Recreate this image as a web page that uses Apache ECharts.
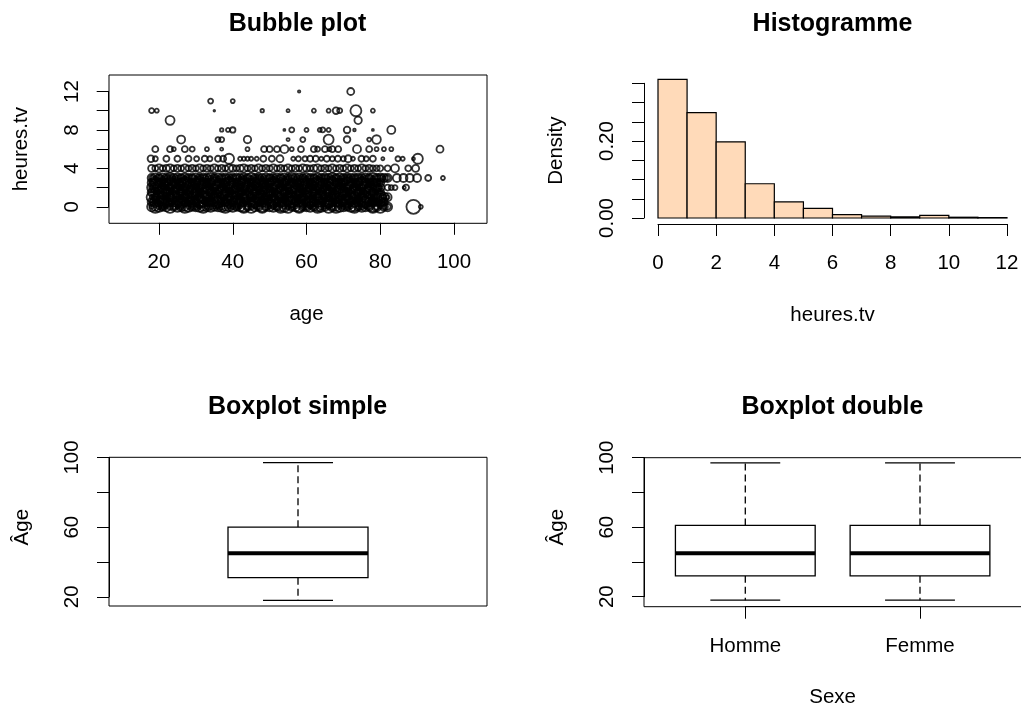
<!DOCTYPE html>
<html><head><meta charset="utf-8">
<script src="https://cdn.jsdelivr.net/npm/echarts@6/dist/echarts.min.js"></script>
<style>html,body{margin:0;padding:0;background:#fff}#c{width:1021px;height:706px}</style>
</head><body><div id="c"></div>
<script>
// ================= DATA =================
// Bubble plot: rows of [age, weight, weight, ...] for each heures.tv value
// (each weight after the age is one respondent; weight = bubble radius variable)
const tv0   = [[18,4.5,2],[19,4,6],[20,5,2.5],[21,4,3],[22,4.5,2],[23,6,3],[24,4,2.5],[25,5,2],[26,4.5,3],[27,4,6],[28,5,2],[29,4,2.5],[30,4.5,3],[31,5,2],[32,4,6],[33,4.5,2.5],[34,5,3],[35,4,2],[36,4.5,2.5],[37,5,3],[38,4,6],[39,4.5,2],[40,5,2.5],[41,4,3],[42,4.5,2],[43,5,6],[44,4,2.5],[45,6,3],[46,4.5,2],[47,4,2.5],[48,5,6],[49,4,3],[50,4.5,2],[51,5,2.5],[52,4,3],[53,4.5,6],[54,5,2],[55,6,2.5],[56,4,3],[57,4.5,2],[58,5,6],[59,4,2.5],[60,4.5,3],[61,5,2],[62,4,2.5],[63,4.5,6],[64,5,3],[65,4,2],[66,6,2.5],[67,4.5,3],[68,4,6],[69,5,2],[70,4.5,2.5],[71,4,3],[72,5,2],[73,4.5,6],[74,4,2.5],[75,5,3],[76,4.5,2],[77,4,2.5],[78,5,6],[79,4.5,3],[80,6,2],[81,4,2.5],[82,4.5,3],[89,7],[91,2]];
const tv05  = [[18,4,2.5],[19,5,3],[20,4.5,2],[21,4,6],[22,5,2.5],[23,4,3],[24,4.5,2],[25,5,2.5],[26,4,6],[27,4.5,3],[28,4,2],[29,5,2.5],[30,4,3],[31,4.5,6],[32,5,2],[33,4,2.5],[34,4.5,3],[35,4,2],[36,5,6],[37,4.5,2.5],[38,4,3],[39,5,2],[40,4,2.5],[41,4.5,6],[42,5,3],[43,4,2],[44,4.5,2.5],[45,4,3],[46,5,6],[47,4,2],[48,4.5,2.5],[49,5,3],[50,4,2],[51,4.5,6],[52,4,2.5],[53,5,3],[54,4.5,2],[55,4,2.5],[56,5,6],[57,4,3],[58,4.5,2],[59,5,2.5],[60,4,3],[61,4.5,6],[62,4,2],[63,5,2.5],[64,4.5,3],[65,4,2],[66,5,6],[67,4,2.5],[68,4.5,3],[69,5,2],[70,4,2.5],[71,4.5,6],[72,4,3],[73,5,2],[74,4.5,2.5],[75,4,3],[76,5,6],[77,4,2],[78,4.5,2.5],[79,4,3],[80,4.5,2],[81,4,2.5]];
const tv1   = [[18,5,2],[19,4,3],[20,4.5,6],[21,5,2.5],[22,4,2],[23,4.5,3],[24,5,6],[25,4,2.5],[26,5,2],[27,4.5,3],[28,4,6],[29,5,2.5],[30,4.5,2],[31,4,3],[32,5,6],[33,4.5,2.5],[34,4,2],[35,5,3],[36,4,6],[37,4.5,2.5],[38,5,2],[39,4,3],[40,4.5,6],[41,5,2.5],[42,4,2],[43,4.5,3],[44,5,6],[45,4,2.5],[46,4.5,2],[47,5,3],[48,4,6],[49,4.5,2.5],[50,5,2],[51,4,3],[52,5,6],[53,4.5,2.5],[54,4,2],[55,5,3],[56,4.5,6],[57,4,2.5],[58,5,2],[59,4.5,3],[60,4,6],[61,5,2.5],[62,4.5,2],[63,4,3],[64,5,6],[65,4.5,2.5],[66,4,2],[67,5,3],[68,4,6],[69,4.5,2.5],[70,5,2],[71,4,3],[72,4.5,6],[73,5,2.5],[74,4,2],[75,4.5,3],[76,5,6],[77,4,2.5],[78,4.5,2],[79,5,3],[80,4,6],[81,4.5,2.5],[82,4,2]];
const tv15  = [[18,4,3],[19,4.5,2],[20,5,2.5],[21,4,6],[22,4.5,3],[23,4,2],[24,5,2.5],[25,4.5,6],[26,4,3],[27,5,2],[28,4,2.5],[29,4.5,6],[30,5,3],[31,4,2],[32,4.5,2.5],[33,5,6],[34,4,3],[35,4.5,2],[36,4,2.5],[37,5,6],[38,4.5,3],[39,4,2],[40,5,2.5],[41,4,6],[42,4.5,3],[43,5,2],[44,4,2.5],[45,4.5,6],[46,4,3],[47,5,2],[48,4.5,2.5],[49,4,6],[50,5,3],[51,4.5,2],[52,4,2.5],[53,5,6],[54,4,3],[55,4.5,2],[56,5,2.5],[57,4,6],[58,4.5,3],[59,4,2],[60,5,2.5],[61,4.5,6],[62,4,3],[63,5,2],[64,4,2.5],[65,4.5,6],[66,5,3],[67,4,2],[68,4.5,2.5],[69,4,6],[70,5,3],[71,4.5,2],[72,4,2.5],[73,5,6],[74,4,3],[75,4.5,2],[76,4,2.5],[77,5,6],[78,4,3],[79,4.5,2],[80,4,2.5]];
const tv2   = [[18,4.5,2.5],[19,5,3],[20,4,6],[21,4.5,2],[22,5,2.5],[23,4,3],[24,4.5,6],[25,4,2],[26,5,2.5],[27,4,3],[28,4.5,6],[29,5,2],[30,4,2.5],[31,4.5,3],[32,4,6],[33,5,2],[34,4.5,2.5],[35,4,3],[36,5,6],[37,4,2],[38,4.5,2.5],[39,5,3],[40,4,6],[41,4.5,2],[42,4,2.5],[43,5,3],[44,4.5,6],[45,4,2],[46,5,2.5],[47,4.5,3],[48,4,6],[49,5,2],[50,4,2.5],[51,4.5,3],[52,5,6],[53,4,2],[54,4.5,2.5],[55,4,3],[56,5,6],[57,4.5,2],[58,4,2.5],[59,5,3],[60,4,6],[61,4.5,2],[62,5,2.5],[63,4,3],[64,4.5,6],[65,4,2],[66,5,2.5],[67,4.5,3],[68,4,6],[69,5,2],[70,4,2.5],[71,4.5,3],[72,5,6],[73,4,2],[74,4.5,2.5],[75,4,3],[76,5,6],[77,4.5,2],[78,4,2.5],[79,4.5,3],[80,4,2],[82,3],[83,2.5],[84,2.5],[86.5,1.5],[87,3]];
const tv25  = [[18,4,2],[19,4.5,6],[20,4,3],[21,5,2.5],[22,4,2],[23,4.5,6],[24,4,3],[25,5,2.5],[26,4.5,2],[27,4,6],[28,5,3],[29,4,2.5],[30,4.5,2],[31,4,6],[32,5,3],[33,4,2.5],[34,4.5,2],[35,5,6],[36,4,3],[37,4.5,2.5],[38,4,2],[39,5,6],[40,4.5,3],[41,4,2.5],[42,5,2],[43,4,6],[44,4.5,3],[45,4,2.5],[46,5,2],[47,4,6],[48,4.5,3],[49,5,2.5],[50,4,2],[51,4.5,6],[52,4,3],[53,5,2.5],[54,4,2],[55,4.5,6],[56,4,3],[57,5,2.5],[58,4.5,2],[59,4,6],[60,5,3],[61,4,2.5],[62,4.5,2],[63,4,6],[64,5,3],[65,4,2.5],[66,4.5,2],[67,5,6],[68,4,3],[69,4.5,2.5],[70,4,2],[71,5,6],[72,4,3],[73,4.5,2.5],[74,4,2],[75,5,6],[76,4.5,3],[77,4,2.5],[78,4.5,2],[79,4,3],[80,4,2.5]];
const tv3   = [[18,4,2.5],[19,4.5,2],[20,4,3],[21,4.5,2],[22,4,2.5],[23,5,3],[24,4,2],[25,4.5,2.5],[26,4,3],[27,4.5,2],[28,4,2.5],[29,4,3],[30,4.5,2],[31,4,2.5],[32,4.5,3],[33,4,2],[34,5,2.5],[35,4,3],[36,4.5,2],[37,4,2.5],[38,4.5,3],[39,4,2],[40,4,2.5],[41,4.5,3],[42,4,2],[43,4.5,2.5],[44,4,3],[45,5,2],[46,4,2.5],[47,4.5,3],[48,4,2],[49,4.5,2.5],[50,4,3],[51,4,2],[52,4.5,2.5],[53,4,3],[54,4.5,2],[55,4,2.5],[56,5,3],[57,4,2],[58,4.5,2.5],[59,4,3],[60,4.5,2],[61,4,2.5],[62,4,3],[63,4.5,2],[64,4,2.5],[65,4.5,3],[66,4,2],[67,5,2.5],[68,4,3],[69,4.5,2],[70,4,2.5],[71,4.5,3],[72,4,2],[73,4,2.5],[74,4.5,3],[75,4,2],[76,4.5,2.5],[77,4,3],[78,5,2],[79,4,2.5],[80,4.5,3],[81,4,2],[82,4,2.5],[84.5,4],[86.3,4],[88,4],[90,4],[93,3],[97,2]];
const tv4   = [[18,3.5],[19,3],[20,4],[21,3],[22,3.5],[23,4],[24,3],[25,3.5],[26,3],[27,4],[28,3],[29,3.5],[30,3],[31,4],[32,3],[33,3.5],[34,3],[35,4],[36,3],[37,3.5],[38,3],[39,4],[40,3.5],[41,3],[42,3.5],[43,4],[44,3],[45,3.5],[46,3],[47,4],[48,3],[49,3.5],[50,3],[51,4],[52,3],[53,3.5],[54,3],[55,4],[56,3],[57,3.5],[58,3],[59,4],[60,3.5],[61,3],[62,3.5],[63,4],[64,3],[65,3.5],[66,3],[67,4],[68,3],[69,3.5],[70,3],[71,4],[72,3],[73,3.5],[74,3],[75,4],[76,3],[77,3.5],[78,3],[79,3],[80,3],[82,3],[84,4],[87.6,3],[89.6,3.5]];
const tv5   = [[17.8,3.3],[19,2.5],[22,3],[25,3],[28,3],[30.2,2.5],[32.4,3],[33.8,2.5],[36,3],[37.4,3],[39,5],[42,2],[43,2],[44,2],[45,2],[46.5,2],[48.3,3],[50.6,3],[52.8,3.5],[56.4,2],[57.8,2.5],[59.6,2.5],[61,3],[62.5,3],[64,2],[65.5,3],[67,2.5],[68.5,3],[70,2.5],[71.3,3.5],[72.6,2],[74.9,3],[76.2,2.5],[78,3],[80.7,1.5],[84.8,2.5],[86.1,2],[89,1.5],[90.2,5]];
const tv6   = [[19,3],[23,3],[24,2],[27,3],[29,2.5],[33,2],[37,1.5],[44,2],[48.5,3],[50,3],[52,3],[54,4],[56,2],[58.5,3],[62,3],[63,2.5],[65,3],[66.2,2],[67,3],[68.6,3],[73.7,4],[77,3],[79,2],[81,2],[83,2],[96.2,3.5]];
const tv7   = [[26,4],[36,2.5],[37,2.5],[44,3.7],[55,1.5],[59,2.5],[66,5],[71,3.3],[77,2],[79,4.3]];
const tv8   = [[37,1.7],[38.7,2],[40,2.7],[54,1],[56,2.5],[60,2],[63.6,2],[64.4,2.5],[66,2],[71,3.3],[73,1.3],[78,1],[83,4]];
const tv9   = [[23,4.5],[74,3.7]];
const tv10  = [[18,2.5],[19.4,2],[35,0.8],[48,1.7],[55,1.5],[62,2],[66,2],[68,3.3],[69,2.5],[73.4,5.5],[78,2]];
const tv11  = [[34,2.5],[40,2]];
const tv12  = [[58,1.2],[72,3.5]];
const tvHours = [0, 0.5, 1, 1.5, 2, 2.5, 3, 4, 5, 6, 7, 8, 9, 10, 11, 12];
const tvRows  = [tv0, tv05, tv1, tv15, tv2, tv25, tv3, tv4, tv5, tv6, tv7, tv8, tv9, tv10, tv11, tv12];
const bubbleYLabels = [0, 4, 8, 12];

// Histogram of heures.tv (density per 1-hour bin)
const histBreaks  = [0,1,2,3,4,5,6,7,8,9,10,11,12];
const histDensity = [0.360,0.274,0.198,0.089,0.042,0.025,0.009,0.005,0.003,0.007,0.002,0.001];
const histYLabels = [0, 0.2];

// Boxplots of age: [min, Q1, median, Q3, max]
const boxSimple = [18, 31, 45, 60, 97];
const sexes     = ['Homme', 'Femme'];
const boxHomme  = [18, 32, 45, 61, 97];
const boxFemme  = [18, 32, 45, 61, 97];
const boxYLabels = [20, 60, 100];

// ================= CHART =================
const FONT = '"Liberation Sans", Arial, Helvetica, sans-serif';
const BLACK = '#000';
const FS = 20.5;

const bubbleData = [];
tvRows.forEach((row, i) => row.forEach(p => {
  for (let k = 1; k < p.length; k++) bubbleData.push([p[0], tvHours[i], p[k]]);
}));
const histData = histDensity.map((d, i) => [histBreaks[i], histBreaks[i + 1], d]);

function visAxis(extra) {
  return Object.assign({
    type: 'value',
    axisLine: { show: true, onZero: false, lineStyle: { color: BLACK, width: 1 } },
    axisTick: { show: true, inside: false, length: 12, lineStyle: { color: BLACK, width: 1 } },
    axisLabel: { color: BLACK, fontSize: FS, fontFamily: FONT, margin: 29 },
    splitLine: { show: false },
    nameLocation: 'middle',
    nameMoveOverlap: false,
    nameTextStyle: { color: BLACK, fontSize: FS, fontFamily: FONT },
    silent: true
  }, extra);
}
function hidAxis(gi, extra) {
  return Object.assign({ type: 'value', gridIndex: gi, show: false, min: 0, max: 1, splitLine: { show: false } }, extra || {});
}
function lblFmt(list, digits) {
  return v => list.some(l => Math.abs(l - v) < 1e-9) ? (digits ? v.toFixed(digits) : String(v)) : '';
}
function yLabel(list, digits) {
  return { color: BLACK, fontSize: FS, fontFamily: FONT, margin: 26, rotate: 90, formatter: lblFmt(list, digits) };
}

function boxRenderer(boxW, capW) {
  return function (params, api) {
    const x = api.value(0);
    const mn = api.value(1), q1 = api.value(2), md = api.value(3), q3 = api.value(4), mx = api.value(5);
    const pMin = api.coord([x, mn]), pQ1 = api.coord([x, q1]), pMd = api.coord([x, md]);
    const pQ3 = api.coord([x, q3]), pMx = api.coord([x, mx]);
    const half = api.size([boxW, 0])[0] / 2;
    const capHalf = api.size([capW, 0])[0] / 2;
    const cx = pMd[0];
    const ls = { stroke: BLACK, lineWidth: 1.3, fill: null };
    const dash = { stroke: BLACK, lineWidth: 1.3, lineDash: [7, 4] };
    return {
      type: 'group',
      children: [
        { type: 'line', shape: { x1: cx, y1: pQ3[1], x2: cx, y2: pMx[1] }, style: dash },
        { type: 'line', shape: { x1: cx, y1: pQ1[1], x2: cx, y2: pMin[1] }, style: dash },
        { type: 'line', shape: { x1: cx - capHalf, y1: pMx[1], x2: cx + capHalf, y2: pMx[1] }, style: ls },
        { type: 'line', shape: { x1: cx - capHalf, y1: pMin[1], x2: cx + capHalf, y2: pMin[1] }, style: ls },
        { type: 'rect', shape: { x: cx - half, y: pQ3[1], width: 2 * half, height: pQ1[1] - pQ3[1] }, style: { stroke: BLACK, lineWidth: 1.3, fill: '#fff' } },
        { type: 'line', shape: { x1: cx - half, y1: pMd[1], x2: cx + half, y2: pMd[1] }, style: { stroke: BLACK, lineWidth: 4 } }
      ]
    };
  };
}

const titleStyle = { fontSize: 25, fontWeight: 'bold', color: BLACK, fontFamily: FONT };
const boxGrid = { show: true, borderColor: BLACK, borderWidth: 1, backgroundColor: 'transparent', containLabel: false, outerBoundsMode: 'none' };
const dataGrid = { show: false, containLabel: false, outerBoundsMode: 'none' };

const option = {
  animation: false,
  backgroundColor: '#fff',
  title: [
    { text: 'Bubble plot', left: 297.5, top: 11.5, textAlign: 'center', padding: 0, textStyle: titleStyle },
    { text: 'Histogramme', left: 832.5, top: 11.5, textAlign: 'center', padding: 0, textStyle: titleStyle },
    { text: 'Boxplot simple', left: 297.5, top: 394.5, textAlign: 'center', padding: 0, textStyle: titleStyle },
    { text: 'Boxplot double', left: 832.5, top: 394.5, textAlign: 'center', padding: 0, textStyle: titleStyle }
  ],
  grid: [
    Object.assign({ left: 109, top: 75, width: 378, height: 148.3 }, boxGrid),     // 0 bubble frame
    Object.assign({ left: 159, top: 91.5, width: 295, height: 115.3 }, dataGrid),  // 1 bubble data
    Object.assign({ left: 658, top: 83.3, width: 349, height: 134.7 }, dataGrid),  // 2 histogram
    Object.assign({ left: 109, top: 457.3, width: 378, height: 148.7 }, boxGrid),  // 3 box simple frame
    Object.assign({ left: 109, top: 457.5, width: 378, height: 139.3 }, dataGrid), // 4 box simple data
    Object.assign({ left: 644, top: 457.7, width: 380, height: 149 }, boxGrid),    // 5 box double frame
    Object.assign({ left: 745.3, top: 457.7, width: 174.7, height: 139 }, dataGrid)// 6 box double data
  ],
  xAxis: [
    hidAxis(0),
    visAxis({ gridIndex: 1, min: 20, max: 100, interval: 20, position: 'bottom', offset: 16, name: 'age', nameGap: 81 }),
    visAxis({ gridIndex: 2, min: 0, max: 12, interval: 2, position: 'bottom', offset: 6, name: 'heures.tv', nameGap: 80.5 }),
    hidAxis(3),
    hidAxis(4, { min: 0.46, max: 1.54 }),
    hidAxis(5),
    visAxis({ gridIndex: 6, min: 1, max: 2, interval: 1, position: 'bottom', offset: 10, name: 'Sexe', nameGap: 80,
              axisLabel: { color: BLACK, fontSize: FS, fontFamily: FONT, margin: 29, formatter: v => sexes[Math.round(v) - 1] || '' } })
  ],
  yAxis: [
    hidAxis(0),
    visAxis({ gridIndex: 1, min: 0, max: 12, interval: 2, position: 'left', offset: 50.3, name: 'heures.tv', nameGap: 77, axisLabel: yLabel(bubbleYLabels, 0) }),
    visAxis({ gridIndex: 2, min: 0, max: 0.35, interval: 0.05, position: 'left', offset: 14, name: 'Density', nameGap: 77.5, axisLabel: yLabel(histYLabels, 2) }),
    hidAxis(3),
    visAxis({ gridIndex: 4, min: 20, max: 100, interval: 20, position: 'left', offset: 0, name: 'Âge', nameGap: 76.5, axisLabel: yLabel(boxYLabels, 0) }),
    hidAxis(5),
    visAxis({ gridIndex: 6, min: 20, max: 100, interval: 20, position: 'left', offset: 101.3, name: 'Âge', nameGap: 76.5, axisLabel: yLabel(boxYLabels, 0) })
  ],
  series: [
    {
      type: 'scatter', xAxisIndex: 1, yAxisIndex: 1, data: bubbleData, clip: false, silent: true,
      symbol: 'circle', symbolSize: v => v[2] * 2, large: false, progressive: 0,
      itemStyle: { color: 'rgba(0,0,0,0)', borderColor: BLACK, borderWidth: 1.8 }
    },
    {
      type: 'custom', xAxisIndex: 2, yAxisIndex: 2, data: histData, clip: false, silent: true,
      encode: { x: [0, 1], y: 2 },
      renderItem: function (params, api) {
        const p0 = api.coord([api.value(0), api.value(2)]);
        const p1 = api.coord([api.value(1), 0]);
        return { type: 'rect', shape: { x: p0[0], y: p0[1], width: p1[0] - p0[0], height: p1[1] - p0[1] },
                 style: { fill: '#FFDAB9', stroke: BLACK, lineWidth: 1.2 } };
      }
    },
    {
      type: 'custom', xAxisIndex: 4, yAxisIndex: 4, data: [[1].concat(boxSimple)], clip: false, silent: true,
      encode: { x: 0, y: [1, 2, 3, 4, 5] }, renderItem: boxRenderer(0.4, 0.2)
    },
    {
      type: 'custom', xAxisIndex: 6, yAxisIndex: 6, data: [[1].concat(boxHomme), [2].concat(boxFemme)], clip: false, silent: true,
      encode: { x: 0, y: [1, 2, 3, 4, 5] }, renderItem: boxRenderer(0.8, 0.4)
    }
  ]
};

const chart = echarts.init(document.getElementById('c'), null, { renderer: 'canvas' });
chart.setOption(option);
</script>
</body></html>
